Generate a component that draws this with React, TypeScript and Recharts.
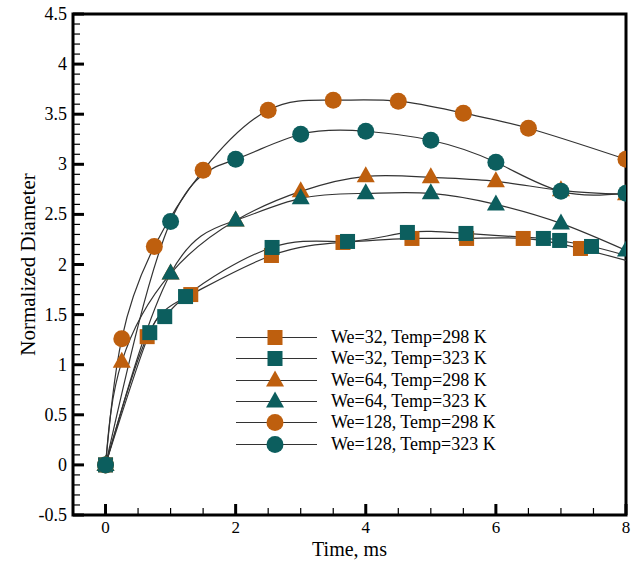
import React from 'react';
import { LineChart, Line, XAxis, YAxis, ReferenceArea, Legend } from 'recharts';

const orange = '#BE5F0E';
const teal = '#0C5E5E';
const serif = '"Liberation Serif", "Times New Roman", serif';

// time (ms) and normalized diameter for each run
const sq298Time = [0, 0.64, 1.31, 2.55, 3.65, 4.71, 5.55, 6.42, 7.3, 8];
const sq298Diam = [0, 1.28, 1.7, 2.09, 2.22, 2.26, 2.26, 2.26, 2.16, 2.04];
const sq323Time = [0, 0.68, 0.91, 1.23, 2.56, 3.72, 4.64, 5.54, 6.73, 6.98, 7.47, 8];
const sq323Diam = [0, 1.32, 1.48, 1.68, 2.17, 2.23, 2.32, 2.31, 2.26, 2.24, 2.18, 2.09];
const tri298Time = [0, 0.25, 1, 2, 3, 4, 5, 6, 7, 8];
const tri298Diam = [0, 1.03, 1.91, 2.44, 2.73, 2.88, 2.87, 2.83, 2.74, 2.7];
const tri323Time = [0, 1, 2, 3, 4, 5, 6, 7, 8];
const tri323Diam = [0, 1.91, 2.44, 2.66, 2.71, 2.71, 2.6, 2.41, 2.14];
const cir298Time = [0, 0.25, 0.75, 1.5, 2.5, 3.5, 4.5, 5.5, 6.5, 8];
const cir298Diam = [0, 1.26, 2.18, 2.94, 3.54, 3.64, 3.63, 3.51, 3.36, 3.05];
const cir323Time = [0, 1, 2, 3, 4, 5, 6, 7, 8];
const cir323Diam = [0, 2.43, 3.05, 3.3, 3.33, 3.24, 3.02, 2.73, 2.71];

// points that are on the curve but carry no symbol
const sqUnmarked = [8];

const xMajor = [0, 2, 4, 6, 8];
const xTicks = [-0.5, 0, 0.5, 1, 1.5, 2, 2.5, 3, 3.5, 4, 4.5, 5, 5.5, 6, 6.5, 7, 7.5, 8];
const yMajor = [-0.5, 0, 0.5, 1, 1.5, 2, 2.5, 3, 3.5, 4, 4.5];
const yTicks = Array.from({ length: 51 }, (_, i) => Math.round((-0.5 + i * 0.1) * 10) / 10);

type Shape = 'square' | 'triangle' | 'circle';

const toRows = (t: number[], d: number[]) => t.map((v, i) => ({ t: v, d: d[i] }));

const series = [
  { name: 'We=32, Temp=298 K', color: orange, shape: 'square' as Shape, data: toRows(sq298Time, sq298Diam), skip: sqUnmarked },
  { name: 'We=32, Temp=323 K', color: teal, shape: 'square' as Shape, data: toRows(sq323Time, sq323Diam), skip: sqUnmarked },
  { name: 'We=64, Temp=298 K', color: orange, shape: 'triangle' as Shape, data: toRows(tri298Time, tri298Diam), skip: [] },
  { name: 'We=64, Temp=323 K', color: teal, shape: 'triangle' as Shape, data: toRows(tri323Time, tri323Diam), skip: [] },
  { name: 'We=128, Temp=298 K', color: orange, shape: 'circle' as Shape, data: toRows(cir298Time, cir298Diam), skip: [] },
  { name: 'We=128, Temp=323 K', color: teal, shape: 'circle' as Shape, data: toRows(cir323Time, cir323Diam), skip: [] },
];

const Marker = ({ cx, cy, shape, color }: { cx: number; cy: number; shape: Shape; color: string }) => {
  if (shape === 'square') return <rect x={cx - 7.5} y={cy - 7.5} width={15} height={15} fill={color} />;
  if (shape === 'triangle')
    return <polygon points={`${cx},${cy - 10} ${cx + 9},${cy + 6} ${cx - 9},${cy + 6}`} fill={color} />;
  return <circle cx={cx} cy={cy} r={8.5} fill={color} />;
};

const makeDot = (shape: Shape, color: string, skip: number[]) => (props: any) => {
  const { cx, cy, payload, index } = props;
  if (cx == null || cy == null || skip.includes(payload.t)) return <g key={index} />;
  return <Marker key={index} cx={cx} cy={cy} shape={shape} color={color} />;
};

const YTick = (props: any) => {
  const { x, y, payload } = props;
  const major = yMajor.includes(payload.value);
  return (
    <g>
      <line x1={x} y1={y} x2={x + (major ? 11 : 7)} y2={y} stroke="#000" strokeWidth={major ? 3 : 1.2} />
      {major && (
        <text x={x - 6} y={y + 6} textAnchor="end" fontFamily={serif} fontSize={18} fill="#000">
          {payload.value}
        </text>
      )}
    </g>
  );
};

const XTick = (props: any) => {
  const { x, y, payload } = props;
  const major = xMajor.includes(payload.value);
  return (
    <g>
      <line x1={x} y1={y} x2={x} y2={y - (major ? 11 : 7)} stroke="#000" strokeWidth={major ? 3 : 1.2} />
      {major && (
        <text x={x} y={y + 18} textAnchor="middle" fontFamily={serif} fontSize={17} fill="#000">
          {payload.value}
        </text>
      )}
    </g>
  );
};

const LegendBox = () => (
  <div style={{ fontFamily: serif, fontSize: 18, color: '#000' }}>
    {series.map((s) => (
      <div key={s.name} style={{ display: 'flex', alignItems: 'center', height: 21.3 }}>
        <svg width={95} height={21} style={{ display: 'block' }}>
          <line x1={0} y1={10.5} x2={81} y2={10.5} stroke="#333" strokeWidth={1.2} />
          <Marker cx={39} cy={10.5} shape={s.shape} color={s.color} />
        </svg>
        <span style={{ whiteSpace: 'nowrap' }}>{s.name}</span>
      </div>
    ))}
  </div>
);

export default function App() {
  return (
    <div style={{ position: 'absolute', left: 0, top: 0, width: 640, height: 565, background: '#fff' }}>
      <LineChart width={640} height={565} margin={{ top: 14, right: 14, bottom: 49, left: 72 }}>
        <XAxis
          type="number"
          dataKey="t"
          domain={[-0.5, 8]}
          ticks={xTicks}
          interval={0}
          allowDataOverflow
          height={1}
          tickSize={0}
          tickMargin={0}
          axisLine={false}
          tick={<XTick />}
          label={{ value: 'Time, ms', position: 'bottom', offset: 26, fontFamily: serif, fontSize: 20, fill: '#000' }}
        />
        <YAxis
          type="number"
          dataKey="d"
          domain={[-0.5, 4.5]}
          ticks={yTicks}
          interval={0}
          allowDataOverflow
          width={1}
          tickSize={0}
          tickMargin={0}
          axisLine={false}
          tick={<YTick />}
          label={{
            value: 'Normalized Diameter',
            angle: -90,
            position: 'left',
            offset: 44,
            fontFamily: serif,
            fontSize: 21,
            fill: '#000',
            style: { textAnchor: 'middle' },
          }}
        />
        <Legend
          layout="vertical"
          verticalAlign="middle"
          align="center"
          wrapperStyle={{ left: 236, top: 327, width: 320 }}
          content={<LegendBox />}
        />
        {series.map((s) => (
          <Line
            key={s.name}
            data={s.data}
            dataKey="d"
            name={s.name}
            type="natural"
            stroke="#333"
            strokeWidth={1.2}
            dot={makeDot(s.shape, s.color, s.skip)}
            activeDot={false}
            isAnimationActive={false}
          />
        ))}
        <ReferenceArea
          x1={-0.5}
          x2={8}
          y1={-0.5}
          y2={4.5}
          fill="none"
          fillOpacity={0}
          stroke="#000"
          strokeWidth={3}
          strokeOpacity={1}
        />
      </LineChart>
    </div>
  );
}
